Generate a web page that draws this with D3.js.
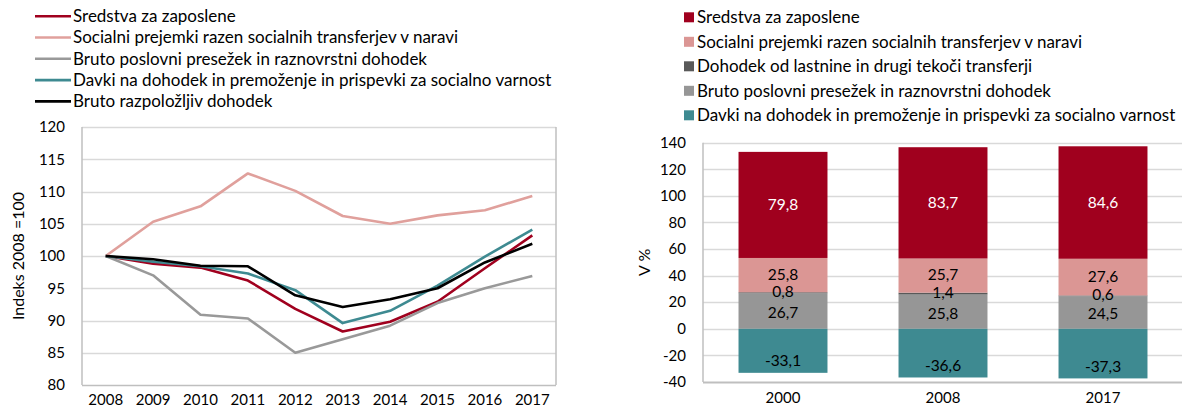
<!DOCTYPE html>
<html><head><meta charset="utf-8">
<script src="https://cdn.jsdelivr.net/npm/d3@7"></script>
<style>
html,body{margin:0;padding:0;background:#fff;}
svg{display:block;font-family:Lato,"Noto Sans",sans-serif;}
</style></head>
<body>
<svg id="c" width="1182" height="407"></svg>
<script>
// ---------- DATA ----------
const years = ["2008","2009","2010","2011","2012","2013","2014","2015","2016","2017"];
const lineNames = ["Sredstva za zaposlene","Socialni prejemki razen socialnih transferjev v naravi","Bruto poslovni presežek in raznovrstni dohodek","Davki na dohodek in premoženje in prispevki za socialno varnost","Bruto razpoložljiv dohodek"];
const sredstva  = [100, 98.8, 98.2, 96.2, 91.8, 88.3, 89.8, 92.9, 98.1, 103.2];
const socialni  = [100, 105.3, 107.7, 112.8, 110.1, 106.2, 105.0, 106.3, 107.1, 109.3];
const poslovni  = [100, 97.0, 90.9, 90.3, 85.0, 87.1, 89.2, 92.7, 95.0, 96.9];
const davki     = [100, 99.1, 98.4, 97.3, 94.7, 89.6, 91.5, 95.4, 99.9, 104.1];
const razpol    = [100, 99.5, 98.5, 98.4, 93.9, 92.1, 93.3, 95.0, 99.0, 101.9];
const leftTicks = [80, 85, 90, 95, 100, 105, 110, 115, 120];

const barCats = ["2000","2008","2017"];
const barNames = ["Sredstva za zaposlene","Socialni prejemki razen socialnih transferjev v naravi","Dohodek od lastnine in drugi tekoči transferji","Bruto poslovni presežek in raznovrstni dohodek","Davki na dohodek in premoženje in prispevki za socialno varnost"];
const barSredstva = [79.8, 83.7, 84.6];
const barSocialni = [25.8, 25.7, 27.6];
const barLastnina = [0.8, 1.4, 0.6];
const barPoslovni = [26.7, 25.8, 24.5];
const barDavki    = [-33.1, -36.6, -37.3];
const rightTicks = [-40, -20, 0, 20, 40, 60, 80, 100, 120, 140];

// ---------- STYLE ----------
const FS_LEG = 17, FS_TICK = 15, FS_TITLE = 16, FS_LAB = 15.5;
const lineColors = ["#A0001E","#E0A09C","#999999","#3E8A91","#000000"];
const barColors  = ["#A0001E","#DB9694","#595959","#969696","#3E8A91"];
const gridC = "#D9D9D9", axisC = "#BFBFBF";
const fmt = v => String(v).replace(".", ",");

const svg = d3.select("#c");

// ================= LEFT CHART =================
const xL = d3.scaleBand().domain(years).range([82, 556]);
const yL = d3.scaleLinear().domain([80, 120]).range([385, 127]);
const gL = svg.append("g");

gL.selectAll("line.grid").data(leftTicks).join("line")
  .attr("x1", 82).attr("x2", 556)
  .attr("y1", d => Math.round(yL(d)) + 0.5).attr("y2", d => Math.round(yL(d)) + 0.5)
  .attr("stroke", d => (d === 80 ? axisC : gridC)).attr("stroke-width", 1.5);
[82, 556].forEach(x => gL.append("line").attr("x1", x).attr("x2", x)
  .attr("y1", yL(120)).attr("y2", yL(80)).attr("stroke", axisC).attr("stroke-width", 1.5));

gL.selectAll("text.yt").data(leftTicks).join("text")
  .attr("x", 65).attr("y", d => yL(d)).attr("dy", "0.35em")
  .attr("text-anchor", "end").attr("font-size", FS_TICK).attr("fill", "#000").text(d => d);
gL.selectAll("text.xt").data(years).join("text")
  .attr("x", d => xL(d) + xL.bandwidth() / 2).attr("y", 405)
  .attr("text-anchor", "middle").attr("font-size", FS_TICK).attr("fill", "#000").text(d => d);
gL.append("text").attr("transform", `translate(24,${(yL(120) + yL(80)) / 2}) rotate(-90)`)
  .attr("text-anchor", "middle").attr("font-size", FS_TITLE).text("Indeks 2008 =100");

const lineSeries = [sredstva, socialni, poslovni, davki, razpol];
const lineGen = d3.line().x((d, i) => xL(years[i]) + xL.bandwidth() / 2).y(d => yL(d));
lineSeries.forEach((s, k) => {
  gL.append("path").attr("d", lineGen(s)).attr("fill", "none")
    .attr("stroke", lineColors[k]).attr("stroke-width", 2.6).attr("stroke-linejoin", "round");
});

// legend left
lineNames.forEach((n, k) => {
  const y = 16.2 + k * 21.3;
  gL.append("line").attr("x1", 35).attr("x2", 71).attr("y1", y).attr("y2", y)
    .attr("stroke", lineColors[k]).attr("stroke-width", 2.6);
  gL.append("text").attr("x", 73).attr("y", y).attr("dy", "0.35em")
    .attr("font-size", FS_LEG).text(n);
});

// ================= RIGHT CHART =================
const xR = d3.scaleBand().domain(barCats).range([703, 1183]).paddingInner(0.444).paddingOuter(0.222);
const yR = d3.scaleLinear().domain([-40, 140]).range([382, 142.7]);
const gR = svg.append("g");

gR.selectAll("line.grid").data(rightTicks).join("line")
  .attr("x1", 703).attr("x2", 1182)
  .attr("y1", d => Math.round(yR(d)) + 0.5).attr("y2", d => Math.round(yR(d)) + 0.5)
  .attr("stroke", d => (d === -40 ? axisC : gridC)).attr("stroke-width", d => (d === -40 ? 2 : 1.5));
gR.append("line").attr("x1", 703).attr("x2", 703).attr("y1", yR(140)).attr("y2", yR(-40))
  .attr("stroke", axisC).attr("stroke-width", 1.5);

gR.selectAll("text.yt").data(rightTicks).join("text")
  .attr("x", 686).attr("y", d => yR(d)).attr("dy", "0.35em")
  .attr("text-anchor", "end").attr("font-size", FS_TICK).text(d => d);
gR.selectAll("text.xt").data(barCats).join("text")
  .attr("x", d => xR(d) + xR.bandwidth() / 2).attr("y", 403)
  .attr("text-anchor", "middle").attr("font-size", FS_TICK).text(d => d);
gR.append("text").attr("transform", `translate(650,${(yR(140) + yR(-40)) / 2}) rotate(-90)`)
  .attr("text-anchor", "middle").attr("font-size", FS_TITLE).text("V %");

// stack positives from 0 upward: poslovni, lastnina, socialni, sredstva
const posOrder = [[barPoslovni, 3], [barLastnina, 2], [barSocialni, 1], [barSredstva, 0]];
barCats.forEach((c, i) => {
  let base = 0;
  const segs = [];
  posOrder.forEach(([arr, ci]) => {
    const v = arr[i];
    segs.push({ y0: base, y1: base + v, v, ci });
    base += v;
  });
  segs.push({ y0: barDavki[i], y1: 0, v: barDavki[i], ci: 4 });
  segs.forEach(s => {
    gR.append("rect").attr("x", xR(c)).attr("width", xR.bandwidth())
      .attr("y", yR(s.y1)).attr("height", yR(s.y0) - yR(s.y1)).attr("fill", barColors[s.ci]);
  });
  segs.forEach(s => {
    let ty = (yR(s.y0) + yR(s.y1)) / 2;
    if (s.ci === 4) ty = yR(s.y0) - 12;
    if (s.ci === 1) ty -= 1;
    if (s.ci === 2) ty -= 1;
    if (s.ci === 3) ty += 1.5;
    gR.append("text").attr("x", xR(c) + xR.bandwidth() / 2).attr("y", ty).attr("dy", "0.35em")
      .attr("text-anchor", "middle").attr("font-size", FS_LAB)
      .attr("fill", s.ci === 0 ? "#fff" : "#000").text(fmt(s.v));
  });
});

// legend right
barNames.forEach((n, k) => {
  const y = 17.3 + k * 24.5;
  gR.append("rect").attr("x", 684).attr("y", y - 5).attr("width", 10).attr("height", 10).attr("fill", barColors[k]);
  gR.append("text").attr("x", 697).attr("y", y).attr("dy", "0.35em").attr("font-size", FS_LEG).text(n);
});
</script>
</body></html>
